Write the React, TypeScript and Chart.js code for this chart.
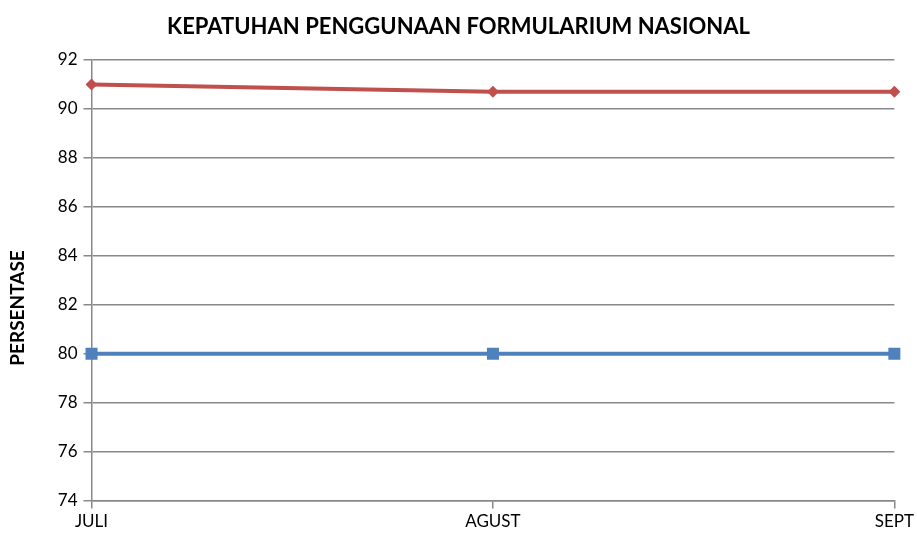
import React, { useEffect, useRef } from "react";
import { Chart, registerables } from "chart.js";

Chart.register(...registerables);

const months = ["JULI", "AGUST", "SEPT"];
const kepatuhan = [91, 90.7, 90.7];
const target = [80, 80, 80];
const yTicks = [74, 76, 78, 80, 82, 84, 86, 88, 90, 92];

export default function App() {
  const ref = useRef<HTMLCanvasElement | null>(null);
  useEffect(() => {
    document.body.style.margin = "0";
    const ctx = ref.current!;
    const chart = new Chart(ctx, {
      type: "line",
      data: {
        labels: months,
        datasets: [
          {
            label: "Kepatuhan",
            data: kepatuhan,
            borderColor: "#C0504D",
            backgroundColor: "#C0504D",
            borderWidth: 4,
            pointStyle: "rectRot",
            pointRadius: 6,
            pointBorderWidth: 0,
            tension: 0,
          },
          {
            label: "Target",
            data: target,
            borderColor: "#4F81BD",
            backgroundColor: "#4F81BD",
            borderWidth: 4,
            pointStyle: "rect",
            pointRadius: 8.5,
            pointBorderWidth: 0,
            tension: 0,
          },
        ],
      },
      options: {
        animation: false,
        responsive: false,
        layout: { padding: { left: 0, right: 0, top: 0, bottom: 0 } },
        plugins: {
          legend: { display: false },
          tooltip: { enabled: false },
          title: {
            display: true,
            text: "KEPATUHAN PENGGUNAAN FORMULARIUM NASIONAL",
            color: "#000",
            font: { family: "Lato", size: 22, weight: "bold" },
            padding: { top: 14, bottom: 19.6 },
          },
        },
        scales: {
          x: {
            offset: false,
            grid: {
              drawOnChartArea: false,
              drawTicks: true,
              tickLength: 8,
              color: "#888",
              lineWidth: 1.5,
            },
            border: { display: true, color: "#888", width: 1.5 },
            ticks: {
              color: "#000",
              font: { family: "Lato", size: 17 },
              padding: 3,
              maxRotation: 0,
              autoSkip: false,
            },
          },
          y: {
            min: 74,
            max: 92,
            afterBuildTicks: (axis: any) => {
              axis.ticks = yTicks.map((v) => ({ value: v }));
            },
            grid: { color: "#888", tickLength: 8, lineWidth: 1.5 },
            border: { display: true, color: "#888", width: 1.5 },
            ticks: {
              color: "#000",
              font: { family: "Lato", size: 17 },
              padding: 6,
            },
            title: {
              display: true,
              text: "PERSENTASE            ",
              color: "#000",
              font: { family: "Lato", size: 19, weight: "bold" },
              padding: { top: 6.6, bottom: 22.4 },
            },
          },
        },
      },
    });
    return () => chart.destroy();
  }, []);
  return (
    <div style={{ width: 917, height: 535 }}>
      <canvas ref={ref} width={917} height={535} />
    </div>
  );
}
